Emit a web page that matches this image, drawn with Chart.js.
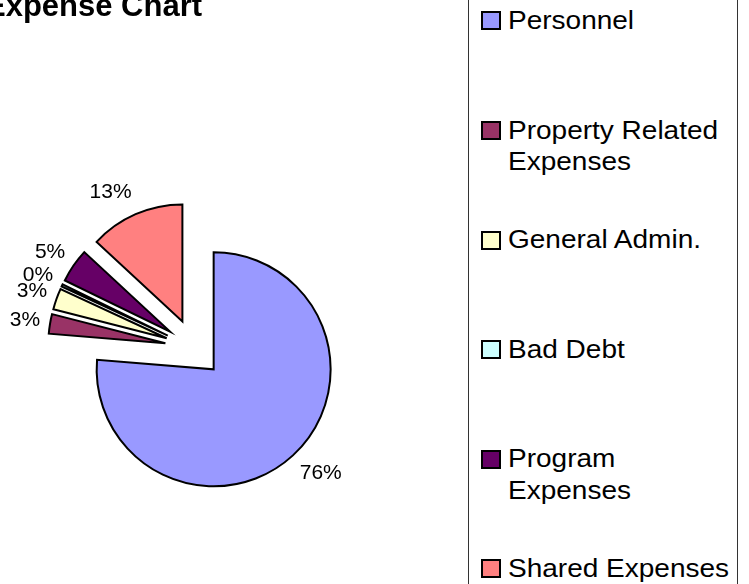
<!DOCTYPE html>
<html>
<head>
<meta charset="utf-8">
<script src="https://cdn.jsdelivr.net/npm/chart.js@4.4.1/dist/chart.umd.min.js"></script>
<style>
  html, body { margin: 0; padding: 0; background: #fff; overflow: hidden; }
  #wrap { position: relative; width: 749px; height: 584px; overflow: hidden; }
  #c { position: absolute; left: 0; top: 0; }
  #title { position: absolute; left: -15px; top: -9px; font: bold 31px "Liberation Sans", Arial, sans-serif; line-height: 30px; white-space: nowrap; color: #000; }
  #legend { position: absolute; left: 468px; top: -10px; width: 270px; height: 610px; border: 1px solid #333; box-sizing: border-box; background: #fff; }
  .item { position: absolute; left: 0; width: 100%; }
  .mk { position: absolute; left: 12px; width: 20px; height: 19px; border: 2px solid #000; box-sizing: border-box; }
  .tx { position: absolute; left: 39px; font: 25px "Liberation Sans", Arial, sans-serif; line-height: 31.7px; color: #000; transform: scaleX(1.12); transform-origin: 0 0; white-space: nowrap; }
</style>
</head>
<body>
<div id="wrap">
  <canvas id="c" width="749" height="584"></canvas>
  <div id="title">Expense Chart</div>
  <div id="legend"></div>
</div>
<script>
const categories = ["Personnel", "Property Related Expenses", "General Admin.", "Bad Debt", "Program Expenses", "Shared Expenses"];
const legendLines = [["Personnel"], ["Property Related", "Expenses"], ["General Admin."], ["Bad Debt"], ["Program", "Expenses"], ["Shared Expenses"]];
const values = [76.3, 2.7, 2.9, 0.3, 4.7, 13.1];
const colors = ["#9999FF", "#993366", "#FFFFCC", "#CCFFFF", "#660066", "#FF8080"];

// legend (HTML)
const legend = document.getElementById('legend');
const firstBaseline = 28.5, itemGap = 109.6;
legendLines.forEach((lines, i) => {
  const base = firstBaseline + i * itemGap + 10; // +10 for legend top offset
  const mk = document.createElement('div');
  mk.className = 'mk';
  mk.style.background = colors[i];
  mk.style.top = (base - 8.7 - 9.5) + 'px';
  legend.appendChild(mk);
  const tx = document.createElement('div');
  tx.className = 'tx';
  tx.style.top = (base - 24.5) + 'px';
  tx.innerHTML = lines.map(l => l.replace(/&/g, '&amp;')).join('<br>');
  legend.appendChild(tx);
});

const EXPLODE = 29;
const explodePlugin = {
  id: 'explode',
  afterDatasetUpdate(chart, args) {
    args.meta.data.forEach(el => {
      const mid = (el.startAngle + el.endAngle) / 2;
      el.x += Math.cos(mid) * EXPLODE;
      el.y += Math.sin(mid) * EXPLODE;
    });
  }
};

const labelPlugin = {
  id: 'pctLabels',
  afterDatasetsDraw(chart) {
    const ctx = chart.ctx;
    const meta = chart.getDatasetMeta(0);
    const data = chart.data.datasets[0].data;
    const total = data.reduce((a, b) => a + b, 0);
    ctx.save();
    ctx.font = '21px "Liberation Sans", Arial, sans-serif';
    ctx.fillStyle = '#000';
    ctx.textAlign = 'center';
    ctx.textBaseline = 'middle';
    meta.data.forEach((el, i) => {
      const mid = (el.startAngle + el.endAngle) / 2;
      const dx = Math.cos(mid), dy = Math.sin(mid);
      const txt = Math.round(data[i] / total * 100) + '%';
      const w = ctx.measureText(txt).width;
      const ax = el.x + dx * (el.outerRadius + 10);
      const ay = el.y + dy * (el.outerRadius + 10);
      const cx = ax + Math.sign(dx) * w / 2;
      const cy = ay + dy * 14.5;
      ctx.fillText(txt, cx, cy);
    });
    ctx.restore();
  }
};

new Chart(document.getElementById('c'), {
  type: 'pie',
  data: {
    labels: categories,
    datasets: [{
      data: values,
      backgroundColor: colors,
      borderColor: '#000',
      borderWidth: 2,
      borderJoinStyle: 'miter'
    }]
  },
  options: {
    responsive: false,
    animation: false,
    radius: 117,
    layout: { padding: { left: 0, right: 361, top: 112, bottom: 0 } },
    plugins: { legend: { display: false }, tooltip: { enabled: false }, title: { display: false } }
  },
  plugins: [explodePlugin, labelPlugin]
});
</script>
</body>
</html>
